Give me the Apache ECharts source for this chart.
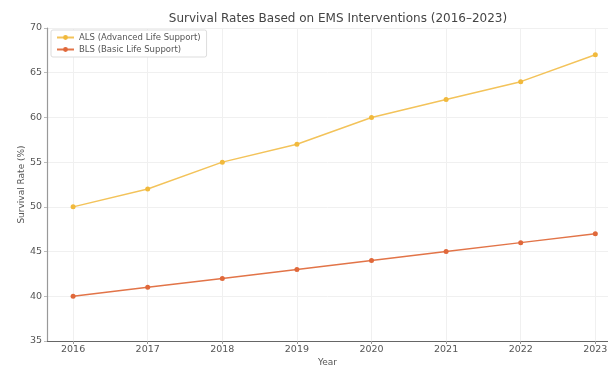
<!DOCTYPE html>
<html>
<head>
<meta charset="utf-8">
<script src="https://cdn.jsdelivr.net/npm/echarts@6/dist/echarts.min.js"></script>
<style>
  html, body { margin: 0; padding: 0; background: #fff; }
  #chart { width: 608px; height: 367px; }
</style>
</head>
<body>
<div id="chart"></div>
<script>
// Survival rates by year for the two EMS intervention types
const years = [2016, 2017, 2018, 2019, 2020, 2021, 2022, 2023];
const alsRates = [50, 52, 55, 57, 60, 62, 64, 67];
const blsRates = [40, 41, 42, 43, 44, 45, 46, 47];
const seriesNames = ['ALS (Advanced Life Support)', 'BLS (Basic Life Support)'];
const yTicks = [35, 40, 45, 50, 55, 60, 65, 70];

const font = 'DejaVu Sans';
const textColor = '#555';

const chart = echarts.init(document.getElementById('chart'), null, { renderer: 'canvas' });

chart.setOption({
  animation: false,
  backgroundColor: '#fff',
  title: {
    text: 'Survival Rates Based on EMS Interventions (2016–2023)',
    left: 333, top: 8, textAlign: 'center',
    textStyle: { fontFamily: font, fontSize: 12, fontWeight: 'normal', color: '#444' }
  },
  legend: {
    orient: 'vertical',
    left: 51, top: 30,
    padding: [3, 6, 3, 5],
    itemGap: 3,
    itemWidth: 17, itemHeight: 6,
    borderColor: '#ddd', borderWidth: 1, borderRadius: 2,
    backgroundColor: '#fff',
    textStyle: { fontFamily: font, fontSize: 8.5, color: textColor },
    data: seriesNames
  },
  grid: { left: 47, right: 0, top: 28, bottom: 26, outerBoundsMode: 'none', containLabel: false },
  xAxis: {
    type: 'value',
    min: 2015.65, max: 2023.17,
    name: 'Year', nameLocation: 'middle', nameGap: 17, nameMoveOverlap: false,
    nameTextStyle: { fontFamily: font, fontSize: 9, color: textColor },
    axisLine: { show: true, lineStyle: { color: '#666', width: 1.2 } },
    axisTick: { show: true, length: 3, lineStyle: { color: '#999' }, customValues: years },
    axisLabel: {
      fontFamily: font, fontSize: 9.5, color: textColor, margin: 4,
      customValues: years,
      formatter: v => String(v)
    },
    splitLine: { show: true, lineStyle: { color: '#f0f0f0', width: 1 } }
  },
  yAxis: {
    type: 'value',
    min: yTicks[0], max: yTicks[yTicks.length - 1], interval: 5,
    name: 'Survival Rate (%)', nameLocation: 'middle', nameGap: 21, nameMoveOverlap: false,
    nameTextStyle: { fontFamily: font, fontSize: 9, color: textColor },
    axisLine: { show: true, lineStyle: { color: '#999', width: 1.2 } },
    axisTick: { show: true, length: 3, lineStyle: { color: '#bbb' } },
    axisLabel: { fontFamily: font, fontSize: 9.5, color: textColor, margin: 5 },
    splitLine: { show: true, lineStyle: { color: '#f0f0f0', width: 1 } }
  },
  series: [
    {
      name: seriesNames[0], type: 'line',
      data: years.map((y, i) => [y, alsRates[i]]),
      symbol: 'circle', symbolSize: 5,
      itemStyle: { color: '#f1b93c' },
      lineStyle: { color: '#f3c35a', width: 1.5 }
    },
    {
      name: seriesNames[1], type: 'line',
      data: years.map((y, i) => [y, blsRates[i]]),
      symbol: 'circle', symbolSize: 5,
      itemStyle: { color: '#e0683a' },
      lineStyle: { color: '#e27448', width: 1.5 }
    }
  ]
});
</script>
</body>
</html>
